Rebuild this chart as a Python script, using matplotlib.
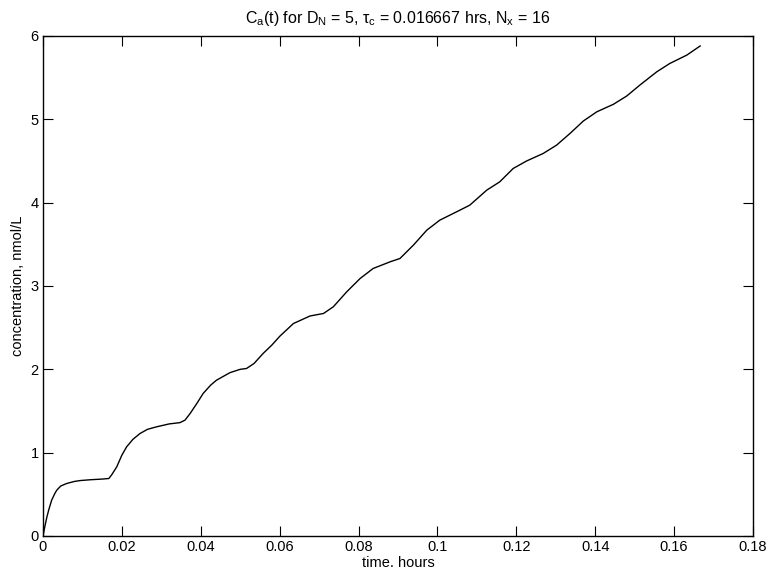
import matplotlib
matplotlib.use('Agg')
import matplotlib.pyplot as plt

# values
t_hours = [0, 0.0005, 0.001, 0.0015, 0.0022, 0.003, 0.0035, 0.0045, 0.006, 0.008,
           0.0094, 0.012, 0.015, 0.0167, 0.0175, 0.0187, 0.02, 0.0212, 0.0228, 0.0246,
           0.0265, 0.0288, 0.032, 0.0347, 0.036, 0.0373, 0.039, 0.0406, 0.0425, 0.044,
           0.0474, 0.05, 0.0516, 0.0535, 0.0558, 0.058, 0.0601, 0.0635, 0.0677, 0.0711,
           0.0736, 0.077, 0.0804, 0.0837, 0.088, 0.0905, 0.0939, 0.0973, 0.1006, 0.1057,
           0.1082, 0.1125, 0.1158, 0.1192, 0.1226, 0.1268, 0.1302, 0.1336, 0.137, 0.1404,
           0.1446, 0.148, 0.1513, 0.1556, 0.1589, 0.1632, 0.1666]
conc = [0, 0.12, 0.23, 0.32, 0.43, 0.51, 0.55, 0.60, 0.63, 0.655,
        0.665, 0.675, 0.683, 0.69, 0.74, 0.83, 0.97, 1.07, 1.16, 1.23,
        1.28, 1.31, 1.345, 1.36, 1.39, 1.47, 1.59, 1.71, 1.81, 1.87,
        1.96, 2.00, 2.01, 2.07, 2.19, 2.29, 2.40, 2.55, 2.64, 2.67,
        2.75, 2.93, 3.09, 3.21, 3.29, 3.33, 3.49, 3.67, 3.79, 3.91,
        3.97, 4.15, 4.25, 4.41, 4.50, 4.59, 4.69, 4.83, 4.98, 5.09,
        5.18, 5.28, 5.41, 5.57, 5.67, 5.77, 5.88]

x_ticks = [0, 0.02, 0.04, 0.06, 0.08, 0.1, 0.12, 0.14, 0.16, 0.18]
x_labels = ['0', '0.02', '0.04', '0.06', '0.08', '0.1', '0.12', '0.14', '0.16', '0.18']
y_ticks = [0, 1, 2, 3, 4, 5, 6]

plt.rcParams['font.family'] = ['Liberation Sans', 'DejaVu Sans']
plt.rcParams['font.size'] = 10.5
plt.rcParams['mathtext.fontset'] = 'custom'
plt.rcParams['mathtext.rm'] = 'Liberation Sans'
plt.rcParams['mathtext.it'] = 'Liberation Sans'

fig = plt.figure(figsize=(7.69, 5.71), dpi=100)
ax = fig.add_axes([0.0559, 0.0613, 0.9233, 0.8757])

ax.plot(t_hours, conc, color='black', linewidth=1.0, solid_joinstyle='round')

ax.set_xlim(0, 0.18)
ax.set_ylim(0, 6)
ax.set_xticks(x_ticks)
ax.set_xticklabels(x_labels)
ax.set_yticks(y_ticks)
ax.tick_params(direction='in', top=True, right=True, length=7, width=0.8, pad=3)
for s in ax.spines.values():
    s.set_linewidth(1.0)

ax.set_title(r'C$_\mathrm{a}$(t) for D$_\mathrm{N}$ = 5, $\tau_\mathrm{c}$ = 0.016667 hrs, N$_\mathrm{x}$ = 16',
             fontsize=11.5, pad=9)
ax.set_xlabel('time. hours', labelpad=1)
ax.set_ylabel('concentration, nmol/L', labelpad=4)

plt.savefig('out.png', dpi=100)
